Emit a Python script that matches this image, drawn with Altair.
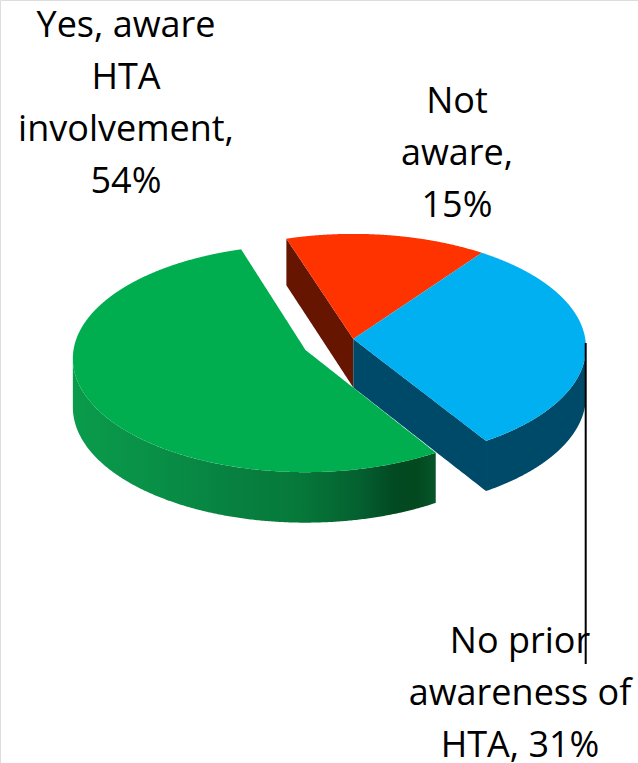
import numpy as np
import pandas as pd
import altair as alt

# Survey shares, in percent
categories = ["Yes, aware HTA involvement", "Not aware", "No prior awareness of HTA"]
shares = [54, 15, 31]
label_lines = [
    ["Yes, aware", "HTA", "involvement,", "54%"],
    ["Not", "aware,", "15%"],
    ["No prior", "awareness of", "HTA, 31%"],
]
label_centres = [(126, 26), (457, 102), (520, 642)]
LINE_STEP = 52
FONT_SIZE = 36

TOP_COLOURS = ["#00AE4F", "#FF3300", "#00B0F0"]
RED_WALL = "#661500"
BLUE_WALL = "#004A69"
GREEN_WALL_STOPS = [
    (0.0, "#0A9B4B"), (0.22, "#099047"), (0.45, "#078040"), (0.61, "#067A3A"),
    (0.79, "#046030"), (0.885, "#024A22"), (0.95, "#03491F"), (1.0, "#06562A"),
]

# Projection of the tilted disc onto the page
RADIUS_X = 232.0
RADIUS_Y = 113.0
PERSPECTIVE = 0.075
FIRST_ANGLE = -18.0          # clockwise from the back of the disc, where the red slice starts
GREEN_TURN = 0.7             # the pulled-out slice sits slightly rotated
BODY_CENTRE = (353.3, 339.0)
GREEN_CENTRE = (305.5, 350.0)


def project(centre, angle):
    a = np.radians(angle)
    u, v = np.sin(a), -np.cos(a)
    w = 1 - PERSPECTIVE * v
    return centre[0] + RADIUS_X * u / w, centre[1] + RADIUS_Y * v / w


def depth(angle):
    return 48.5 - 2.0 * np.cos(np.radians(angle))


def wedge_frame(centre, a0, a1):
    """Upper and lower outline of a slice's top face at each horizontal position."""
    ang = np.arange(a0, a1, 0.25)
    ang = np.append(ang, a1)
    xs, ys = project(centre, ang)
    px = np.concatenate([[centre[0]], xs, [centre[0]]])
    py = np.concatenate([[centre[1]], ys, [centre[1]]])
    grid = np.unique(np.round(px, 3))
    rows = []
    for gx in grid:
        hits = []
        for i in range(len(px) - 1):
            lo, hi = sorted((px[i], px[i + 1]))
            if lo - 1e-3 <= gx <= hi + 1e-3:
                if abs(px[i + 1] - px[i]) < 1e-9:
                    hits += [py[i], py[i + 1]]
                else:
                    t = (gx - px[i]) / (px[i + 1] - px[i])
                    hits.append(py[i] + t * (py[i + 1] - py[i]))
        rows.append({"x": gx, "y": min(hits), "y2": max(hits)})
    return pd.DataFrame(rows)


def rim_frame(centre, a0, a1):
    ang = np.linspace(a0, a1, 300)
    xs, ys = project(centre, ang)
    return pd.DataFrame({"x": xs, "y": ys, "y2": ys + depth(ang)}).sort_values("x")


def cut_frame(centre, angle):
    ex, ey = project(centre, angle)
    ts = np.linspace(0, 1, 40)
    xs = centre[0] + ts * (ex - centre[0])
    ys = centre[1] + ts * (ey - centre[1])
    d = depth(90) + ts * (depth(angle) - depth(90))
    return pd.DataFrame({"x": xs, "y": ys, "y2": ys + d}).sort_values("x")


x_scale = alt.Scale(domain=[0, 638], range=[0, 638], nice=False, zero=False)
y_scale = alt.Scale(domain=[0, 763], range=[0, 763], nice=False, zero=False)
X = alt.X("x:Q", scale=x_scale, axis=None)
Y = alt.Y("y:Q", scale=y_scale, axis=None)


def area(frame, paint):
    return alt.Chart(frame).mark_area(color=paint, opacity=1, interpolate="linear").encode(
        x=X, y=Y, y2="y2:Q"
    )


# Slice boundaries follow from the shares, clockwise: red, blue, then green
red_end = FIRST_ANGLE + shares[1] * 3.6
blue_end = red_end + shares[2] * 3.6
green_start = blue_end + GREEN_TURN
green_end = green_start + shares[0] * 3.6

green_rim_angles = np.linspace(green_start, green_end, 800)
green_rim_end = green_rim_angles[np.argmin(project(GREEN_CENTRE, green_rim_angles)[0])]
blue_rim_angles = np.linspace(red_end, blue_end, 800)
blue_rim_start = blue_rim_angles[np.argmax(project(BODY_CENTRE, blue_rim_angles)[0])]

green_gradient = alt.Gradient(
    gradient="linear", x1=0, x2=1, y1=0, y2=0,
    stops=[alt.GradientStop(offset=o, color=c) for o, c in GREEN_WALL_STOPS],
)

layers = [
    area(cut_frame(BODY_CENTRE, FIRST_ANGLE), RED_WALL),
    area(cut_frame(BODY_CENTRE, blue_end), BLUE_WALL),
    area(rim_frame(BODY_CENTRE, blue_rim_start, blue_end), BLUE_WALL),
    area(wedge_frame(BODY_CENTRE, FIRST_ANGLE, red_end), TOP_COLOURS[1]),
    area(wedge_frame(BODY_CENTRE, red_end, blue_end), TOP_COLOURS[2]),
    area(rim_frame(GREEN_CENTRE, green_start, green_rim_end), green_gradient),
    area(wedge_frame(GREEN_CENTRE, green_start, green_end), TOP_COLOURS[0]),
]

# Category labels, one row per printed line
label_rows = []
for lines, (cx, cy) in zip(label_lines, label_centres):
    for i, line in enumerate(lines):
        label_rows.append({"x": cx, "y": cy + i * LINE_STEP, "text": line})
labels = alt.Chart(pd.DataFrame(label_rows)).mark_text(
    font="Open Sans", fontSize=FONT_SIZE, color="#000000", align="center", baseline="middle"
).encode(x=X, y=Y, text="text:N")

# Leader line from the blue slice down to its label
leader = alt.Chart(pd.DataFrame({"x": [585.7], "y": [343], "y2": [664]})).mark_rule(
    color="#000000", strokeWidth=2
).encode(x=X, y=Y, y2="y2:Q")

chart = alt.layer(*layers, labels, leader).properties(
    width=638, height=763, padding=0, autosize=alt.AutoSizeParams(type="none")
).configure_view(stroke=None).configure(background="#FFFFFF")

chart.save("out.html", embed_options={"renderer": "svg", "actions": False})
